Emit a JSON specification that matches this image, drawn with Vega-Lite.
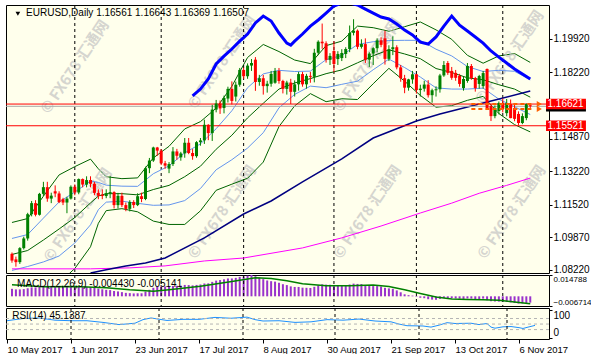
{
"$schema":"https://vega.github.io/schema/vega-lite/v6.json",
"background":"white",
"padding":{"left":4,"top":4,"right":4,"bottom":0},
"spacing":2,
"bounds":"flush",
"config":{"view":{"stroke":"black","strokeWidth":1,"fill":"#FFFFEC"},"font":"Liberation Sans","axis":{"labelFont":"Liberation Sans","labelFontSize":10,"labelColor":"black","tickColor":"black","domain":false,"grid":false}},
"datasets":{
"seps":[{"i":16},{"i":38},{"i":59},{"i":82},{"i":103},{"i":125}],
"wm":[{"i":16,"p":1.1850},{"i":53.5,"p":1.1875},{"i":90.5,"p":1.1860},{"i":126.75,"p":1.1900},{"i":16.75,"p":1.1100},{"i":53.5,"p":1.1115},{"i":90.5,"p":1.1115},{"i":127.25,"p":1.1115}],
"candles":[
{"i":0,"o":1.0903,"h":1.0910,"l":1.0858,"c":1.0869},{"i":1,"o":1.0875,"h":1.0889,"l":1.0838,"c":1.0861},{"i":2,"o":1.0861,"h":1.0937,"l":1.0852,"c":1.0932},{"i":3,"o":1.0932,"h":1.0990,"l":1.0925,"c":1.0981},{"i":4,"o":1.0981,"h":1.1111,"l":1.0970,"c":1.1104},{"i":5,"o":1.1104,"h":1.1171,"l":1.1093,"c":1.1160},{"i":6,"o":1.1160,"h":1.1175,"l":1.1093,"c":1.1101},{"i":7,"o":1.1101,"h":1.1212,"l":1.1097,"c":1.1207},{"i":8,"o":1.1207,"h":1.1268,"l":1.1196,"c":1.1241},{"i":9,"o":1.1241,"h":1.1268,"l":1.1167,"c":1.1183},
{"i":10,"o":1.1183,"h":1.1213,"l":1.1160,"c":1.1198},{"i":11,"o":1.1220,"h":1.1250,"l":1.1190,"c":1.1209},{"i":12,"o":1.1209,"h":1.1220,"l":1.1160,"c":1.1165},{"i":13,"o":1.1180,"h":1.1187,"l":1.1150,"c":1.1163},{"i":14,"o":1.1163,"h":1.1192,"l":1.1109,"c":1.1183},{"i":15,"o":1.1183,"h":1.1250,"l":1.1178,"c":1.1243},{"i":16,"o":1.1243,"h":1.1255,"l":1.1200,"c":1.1214},{"i":17,"o":1.1214,"h":1.1285,"l":1.1205,"c":1.1282},{"i":18,"o":1.1282,"h":1.1285,"l":1.1240,"c":1.1254},{"i":19,"o":1.1254,"h":1.1296,"l":1.1240,"c":1.1277},
{"i":20,"o":1.1277,"h":1.1296,"l":1.1240,"c":1.1258},{"i":21,"o":1.1258,"h":1.1268,"l":1.1200,"c":1.1212},{"i":22,"o":1.1212,"h":1.1230,"l":1.1180,"c":1.1197},{"i":23,"o":1.1203,"h":1.1230,"l":1.1180,"c":1.1196},{"i":24,"o":1.1196,"h":1.1230,"l":1.1185,"c":1.1210},{"i":25,"o":1.1210,"h":1.1298,"l":1.1185,"c":1.1216},{"i":26,"o":1.1216,"h":1.1220,"l":1.1133,"c":1.1150},{"i":27,"o":1.1150,"h":1.1212,"l":1.1133,"c":1.1197},{"i":28,"o":1.1197,"h":1.1213,"l":1.1140,"c":1.1150},{"i":29,"o":1.1150,"h":1.1163,"l":1.1119,"c":1.1131},
{"i":30,"o":1.1131,"h":1.1175,"l":1.1118,"c":1.1166},{"i":31,"o":1.1166,"h":1.1175,"l":1.1135,"c":1.1150},{"i":32,"o":1.1150,"h":1.1210,"l":1.1145,"c":1.1195},{"i":33,"o":1.1195,"h":1.1213,"l":1.1165,"c":1.1181},{"i":34,"o":1.1181,"h":1.1345,"l":1.1175,"c":1.1337},{"i":35,"o":1.1337,"h":1.1389,"l":1.1312,"c":1.1376},{"i":36,"o":1.1376,"h":1.1446,"l":1.1369,"c":1.1442},{"i":37,"o":1.1442,"h":1.1445,"l":1.1400,"c":1.1426},{"i":38,"o":1.1426,"h":1.1433,"l":1.1353,"c":1.1362},{"i":39,"o":1.1362,"h":1.1374,"l":1.1334,"c":1.1350},
{"i":40,"o":1.1335,"h":1.1368,"l":1.1312,"c":1.1358},{"i":41,"o":1.1358,"h":1.1444,"l":1.1348,"c":1.1422},{"i":42,"o":1.1422,"h":1.1435,"l":1.1380,"c":1.1400},{"i":43,"o":1.1392,"h":1.1420,"l":1.1375,"c":1.1412},{"i":44,"o":1.1412,"h":1.1490,"l":1.1390,"c":1.1466},{"i":45,"o":1.1466,"h":1.1490,"l":1.1408,"c":1.1414},{"i":46,"o":1.1414,"h":1.1434,"l":1.1380,"c":1.1398},{"i":47,"o":1.1398,"h":1.1474,"l":1.1390,"c":1.1469},{"i":48,"o":1.1469,"h":1.1490,"l":1.1451,"c":1.1478},{"i":49,"o":1.1478,"h":1.1583,"l":1.1460,"c":1.1557},
{"i":50,"o":1.1557,"h":1.1560,"l":1.1479,"c":1.1515},{"i":51,"o":1.1515,"h":1.1658,"l":1.1475,"c":1.1634},{"i":52,"o":1.1634,"h":1.1683,"l":1.1620,"c":1.1665},{"i":53,"o":1.1665,"h":1.1680,"l":1.1612,"c":1.1640},{"i":54,"o":1.1642,"h":1.1705,"l":1.1615,"c":1.1693},{"i":55,"o":1.1690,"h":1.1750,"l":1.1670,"c":1.1739},{"i":56,"o":1.1739,"h":1.1777,"l":1.1660,"c":1.1678},{"i":57,"o":1.1700,"h":1.1776,"l":1.1675,"c":1.1760},{"i":58,"o":1.1760,"h":1.1845,"l":1.1750,"c":1.1835},{"i":59,"o":1.1835,"h":1.1847,"l":1.1790,"c":1.1803},
{"i":60,"o":1.1803,"h":1.1868,"l":1.1790,"c":1.1857},{"i":61,"o":1.1857,"h":1.1890,"l":1.1830,"c":1.1870},{"i":62,"o":1.1887,"h":1.1900,"l":1.1729,"c":1.1774},{"i":63,"o":1.1774,"h":1.1810,"l":1.1755,"c":1.1793},{"i":64,"o":1.1793,"h":1.1810,"l":1.1710,"c":1.1753},{"i":65,"o":1.1753,"h":1.1780,"l":1.1720,"c":1.1765},{"i":66,"o":1.1765,"h":1.1830,"l":1.1750,"c":1.1815},{"i":67,"o":1.1770,"h":1.1845,"l":1.1765,"c":1.1830},{"i":68,"o":1.1830,"h":1.1845,"l":1.1765,"c":1.1779},{"i":69,"o":1.1779,"h":1.1785,"l":1.1716,"c":1.1739},
{"i":70,"o":1.1739,"h":1.1780,"l":1.1710,"c":1.1771},{"i":71,"o":1.1771,"h":1.1790,"l":1.1662,"c":1.1724},{"i":72,"o":1.1724,"h":1.1782,"l":1.1700,"c":1.1762},{"i":73,"o":1.1762,"h":1.1825,"l":1.1730,"c":1.1814},{"i":74,"o":1.1814,"h":1.1825,"l":1.1750,"c":1.1762},{"i":75,"o":1.1762,"h":1.1815,"l":1.1740,"c":1.1805},{"i":76,"o":1.1805,"h":1.1825,"l":1.1770,"c":1.1800},{"i":77,"o":1.1800,"h":1.1942,"l":1.1772,"c":1.1922},{"i":78,"o":1.1922,"h":1.1985,"l":1.1910,"c":1.1978},{"i":79,"o":1.1978,"h":1.2070,"l":1.1942,"c":1.1970},
{"i":80,"o":1.1970,"h":1.1980,"l":1.1872,"c":1.1886},{"i":81,"o":1.1886,"h":1.1920,"l":1.1860,"c":1.1906},{"i":82,"o":1.1931,"h":1.1980,"l":1.1823,"c":1.1865},{"i":83,"o":1.1890,"h":1.1930,"l":1.1860,"c":1.1916},{"i":84,"o":1.1895,"h":1.1940,"l":1.1880,"c":1.1921},{"i":85,"o":1.1916,"h":1.1950,"l":1.1895,"c":1.1941},{"i":86,"o":1.1941,"h":1.2060,"l":1.1925,"c":1.2022},{"i":87,"o":1.2023,"h":1.2092,"l":1.2010,"c":1.2034},{"i":88,"o":1.2034,"h":1.2040,"l":1.1940,"c":1.1952},{"i":89,"o":1.1952,"h":1.1990,"l":1.1943,"c":1.1966},
{"i":90,"o":1.1966,"h":1.1995,"l":1.1870,"c":1.1887},{"i":91,"o":1.1887,"h":1.1925,"l":1.1850,"c":1.1918},{"i":92,"o":1.1918,"h":1.1950,"l":1.1860,"c":1.1945},{"i":93,"o":1.1945,"h":1.1995,"l":1.1925,"c":1.1985},{"i":94,"o":1.1985,"h":1.2000,"l":1.1950,"c":1.1962},{"i":95,"o":1.1995,"h":1.2034,"l":1.1862,"c":1.1891},{"i":96,"o":1.1891,"h":1.1960,"l":1.1880,"c":1.1940},{"i":97,"o":1.1940,"h":1.2005,"l":1.1910,"c":1.1950},{"i":98,"o":1.1950,"h":1.1960,"l":1.1838,"c":1.1848},{"i":99,"o":1.1848,"h":1.1860,"l":1.1775,"c":1.1793},
{"i":100,"o":1.1793,"h":1.1810,"l":1.1717,"c":1.1745},{"i":101,"o":1.1745,"h":1.1790,"l":1.1730,"c":1.1787},{"i":102,"o":1.1787,"h":1.1830,"l":1.1765,"c":1.1813},{"i":103,"o":1.1813,"h":1.1815,"l":1.1715,"c":1.1733},{"i":104,"o":1.1733,"h":1.1760,"l":1.1700,"c":1.1740},{"i":105,"o":1.1740,"h":1.1780,"l":1.1725,"c":1.1761},{"i":106,"o":1.1761,"h":1.1783,"l":1.1695,"c":1.1707},{"i":107,"o":1.1707,"h":1.1740,"l":1.1669,"c":1.1732},{"i":108,"o":1.1732,"h":1.1752,"l":1.1700,"c":1.1737},{"i":109,"o":1.1737,"h":1.1815,"l":1.1720,"c":1.1807},
{"i":110,"o":1.1807,"h":1.1880,"l":1.1800,"c":1.1860},{"i":111,"o":1.1870,"h":1.1880,"l":1.1810,"c":1.1820},{"i":112,"o":1.1830,"h":1.1850,"l":1.1785,"c":1.1795},{"i":113,"o":1.1820,"h":1.1835,"l":1.1780,"c":1.1795},{"i":114,"o":1.1805,"h":1.1815,"l":1.1750,"c":1.1764},{"i":115,"o":1.1743,"h":1.1800,"l":1.1730,"c":1.1789},{"i":116,"o":1.1779,"h":1.1870,"l":1.1770,"c":1.1855},{"i":117,"o":1.1855,"h":1.1865,"l":1.1785,"c":1.1794},{"i":118,"o":1.1794,"h":1.1800,"l":1.1725,"c":1.1743},{"i":119,"o":1.1764,"h":1.1810,"l":1.1740,"c":1.1804},
{"i":120,"o":1.1753,"h":1.1830,"l":1.1740,"c":1.1819},{"i":121,"o":1.1840,"h":1.1842,"l":1.1635,"c":1.1642},{"i":122,"o":1.1652,"h":1.1663,"l":1.1576,"c":1.1601},{"i":123,"o":1.1601,"h":1.1655,"l":1.1590,"c":1.1642},{"i":124,"o":1.1627,"h":1.1675,"l":1.1610,"c":1.1667},{"i":125,"o":1.1667,"h":1.1690,"l":1.1620,"c":1.1637},{"i":126,"o":1.1616,"h":1.1688,"l":1.1600,"c":1.1667},{"i":127,"o":1.1662,"h":1.1685,"l":1.1590,"c":1.1591},{"i":128,"o":1.1642,"h":1.1660,"l":1.1575,"c":1.1587},{"i":129,"o":1.1612,"h":1.1625,"l":1.1554,"c":1.1566},
{"i":130,"o":1.1566,"h":1.1615,"l":1.1560,"c":1.1601},{"i":131,"o":1.1591,"h":1.1665,"l":1.1580,"c":1.1662},{"i":132,"o":1.16561,"h":1.16643,"l":1.16369,"c":1.16507}
],
"bands":[
{"i":0,"gu":1.1062,"bu":1.0981,"m":1.0900,"bl":1.0819,"gl":1.0738},{"i":4,"gu":1.1082,"bu":1.1001,"m":1.0920,"bl":1.0839,"gl":1.0758},{"i":8,"gu":1.1195,"bu":1.1084,"m":1.0973,"bl":1.0862,"gl":1.0751},{"i":12,"gu":1.1303,"bu":1.1166,"m":1.1029,"bl":1.0892,"gl":1.0755},{"i":16,"gu":1.1345,"bu":1.1216,"m":1.1087,"bl":1.0958,"gl":1.0829},{"i":20,"gu":1.1383,"bu":1.1272,"m":1.1161,"bl":1.1050,"gl":1.0939},{"i":22,"gu":1.1334,"bu":1.1265,"m":1.1196,"bl":1.1127,"gl":1.1058},{"i":24,"gu":1.1294,"bu":1.1251,"m":1.1208,"bl":1.1165,"gl":1.1122},{"i":28,"gu":1.1284,"bu":1.1246,"m":1.1208,"bl":1.1170,"gl":1.1132},{"i":32,"gu":1.1288,"bu":1.1245,"m":1.1202,"bl":1.1159,"gl":1.1116},
{"i":36,"gu":1.1389,"bu":1.1309,"m":1.1229,"bl":1.1149,"gl":1.1069},{"i":40,"gu":1.1448,"bu":1.1349,"m":1.1250,"bl":1.1151,"gl":1.1052},{"i":44,"gu":1.1536,"bu":1.1415,"m":1.1294,"bl":1.1173,"gl":1.1052},{"i":48,"gu":1.1573,"bu":1.1460,"m":1.1347,"bl":1.1234,"gl":1.1121},{"i":52,"gu":1.1641,"bu":1.1537,"m":1.1433,"bl":1.1329,"gl":1.1225},{"i":56,"gu":1.1752,"bu":1.1628,"m":1.1504,"bl":1.1380,"gl":1.1256},{"i":60,"gu":1.1898,"bu":1.1745,"m":1.1592,"bl":1.1439,"gl":1.1286},{"i":64,"gu":1.1964,"bu":1.1815,"m":1.1666,"bl":1.1517,"gl":1.1368},{"i":68,"gu":1.1928,"bu":1.1833,"m":1.1738,"bl":1.1643,"gl":1.1548},{"i":72,"gu":1.1885,"bu":1.1827,"m":1.1769,"bl":1.1711,"gl":1.1653},
{"i":76,"gu":1.1867,"bu":1.1829,"m":1.1791,"bl":1.1753,"gl":1.1715},{"i":80,"gu":1.1958,"bu":1.1887,"m":1.1816,"bl":1.1745,"gl":1.1674},{"i":84,"gu":1.1981,"bu":1.1908,"m":1.1835,"bl":1.1762,"gl":1.1689},{"i":88,"gu":1.2057,"bu":1.1964,"m":1.1871,"bl":1.1778,"gl":1.1685},{"i":92,"gu":1.2049,"bu":1.1978,"m":1.1907,"bl":1.1836,"gl":1.1765},{"i":96,"gu":1.2031,"bu":1.1984,"m":1.1937,"bl":1.1890,"gl":1.1843},{"i":100,"gu":1.2054,"bu":1.1985,"m":1.1916,"bl":1.1847,"gl":1.1778},{"i":104,"gu":1.2078,"bu":1.1985,"m":1.1892,"bl":1.1799,"gl":1.1706},{"i":108,"gu":1.2038,"bu":1.1940,"m":1.1842,"bl":1.1744,"gl":1.1646},{"i":112,"gu":1.1990,"bu":1.1906,"m":1.1822,"bl":1.1738,"gl":1.1654},
{"i":116,"gu":1.1909,"bu":1.1852,"m":1.1795,"bl":1.1738,"gl":1.1681},{"i":120,"gu":1.1869,"bu":1.1827,"m":1.1785,"bl":1.1743,"gl":1.1701},{"i":124,"gu":1.1906,"bu":1.1833,"m":1.1760,"bl":1.1687,"gl":1.1614},{"i":128,"gu":1.1918,"bu":1.1828,"m":1.1738,"bl":1.1648,"gl":1.1558},{"i":132,"gu":1.1873,"bu":1.1785,"m":1.1697,"bl":1.1609,"gl":1.1521}
],
"tb":[{"i":46,"v":1.1703},{"i":48,"v":1.1738},{"i":50,"v":1.1789},{"i":52,"v":1.1865},{"i":54,"v":1.1905},{"i":56,"v":1.1941},{"i":58,"v":1.1981},{"i":60,"v":1.2017},{"i":62,"v":1.2073},{"i":64,"v":1.2108},{"i":66,"v":1.2083},{"i":68,"v":1.2022},{"i":70,"v":1.1971},{"i":71,"v":1.1961},{"i":72,"v":1.1981},{"i":74,"v":1.2017},{"i":76,"v":1.2057},{"i":78,"v":1.2088},{"i":80,"v":1.2123},{"i":82,"v":1.2159},{"i":84,"v":1.2174},{"i":86,"v":1.2174},{"i":88,"v":1.2164},{"i":90,"v":1.2143},{"i":92,"v":1.2123},{"i":94,"v":1.2103},{"i":96,"v":1.2093},{"i":98,"v":1.2068},{"i":100,"v":1.2037},{"i":102,"v":1.2012},{"i":104,"v":1.1976},{"i":106,"v":1.1966},{"i":108,"v":1.2002},{"i":110,"v":1.2057},{"i":112,"v":1.2108},{"i":114,"v":1.2062},{"i":116,"v":1.2032},{"i":118,"v":1.2002},{"i":120,"v":1.1971},{"i":122,"v":1.1931},{"i":124,"v":1.1900},{"i":126,"v":1.1870},{"i":128,"v":1.1840},{"i":130,"v":1.1814},{"i":132,"v":1.1789}],
"navy":[{"i":20,"v":1.0806},{"i":24,"v":1.0822},{"i":29,"v":1.0842},{"i":34,"v":1.0857},{"i":39,"v":1.0882},{"i":49,"v":1.0984},{"i":59,"v":1.1105},{"i":66,"v":1.1171},{"i":74,"v":1.1268},{"i":84,"v":1.1384},{"i":92,"v":1.1490},{"i":103,"v":1.1576},{"i":109,"v":1.1612},{"i":117,"v":1.1652},{"i":121,"v":1.1672},{"i":132,"v":1.1728}],
"mag":[{"i":0,"v":1.0827},{"i":20,"v":1.0827},{"i":30,"v":1.0832},{"i":39,"v":1.0842},{"i":49,"v":1.0867},{"i":59,"v":1.0882},{"i":74,"v":1.0933},{"i":84,"v":1.0984},{"i":94,"v":1.1044},{"i":104,"v":1.1110},{"i":112,"v":1.1160},{"i":119,"v":1.1210},{"i":126,"v":1.1250},{"i":132,"v":1.1287}],
"macd":[{"i":0,"h":0.0052},{"i":1,"h":0.0048},{"i":2,"h":0.0048},{"i":3,"h":0.0050},{"i":4,"h":0.0056},{"i":5,"h":0.0062},{"i":6,"h":0.0062},{"i":7,"h":0.0068},{"i":8,"h":0.0073},{"i":9,"h":0.0073},{"i":10,"h":0.0072},{"i":11,"h":0.0072},{"i":12,"h":0.0069},{"i":13,"h":0.0066},{"i":14,"h":0.0064},{"i":15,"h":0.0066},{"i":16,"h":0.0064},{"i":17,"h":0.0067},{"i":18,"h":0.0066},{"i":19,"h":0.0066},{"i":20,"h":0.0064},{"i":21,"h":0.0059},{"i":22,"h":0.0054},{"i":23,"h":0.0049},{"i":24,"h":0.0045},{"i":25,"h":0.0043},{"i":26,"h":0.0037},{"i":27,"h":0.0034},{"i":28,"h":0.0029},{"i":29,"h":0.0024},{"i":30,"h":0.0022},{"i":31,"h":0.0020},{"i":32,"h":0.0021},{"i":33,"h":0.0021},{"i":34,"h":0.0033},{"i":35,"h":0.0045},{"i":36,"h":0.0059},{"i":37,"h":0.0067},{"i":38,"h":0.0068},{"i":39,"h":0.0068},{"i":40,"h":0.0068},{"i":41,"h":0.0072},{"i":42,"h":0.0073},{"i":43,"h":0.0074},{"i":44,"h":0.0079},{"i":45,"h":0.0078},{"i":46,"h":0.0076},{"i":47,"h":0.0079},{"i":48,"h":0.0082},{"i":49,"h":0.0089},{"i":50,"h":0.0090},{"i":51,"h":0.0100},{"i":52,"h":0.0109},{"i":53,"h":0.0113},{"i":54,"h":0.0118},{"i":55,"h":0.0124},{"i":56,"h":0.0124},{"i":57,"h":0.0128},{"i":58,"h":0.0135},{"i":59,"h":0.0138},{"i":60,"h":0.0143},{"i":61,"h":0.0148},{"i":62,"h":0.0140},{"i":63,"h":0.0130},{"i":64,"h":0.0119},{"i":65,"h":0.0110},{"i":66,"h":0.0105},{"i":67,"h":0.0102},{"i":68,"h":0.0094},{"i":69,"h":0.0084},{"i":70,"h":0.0078},{"i":71,"h":0.0069},{"i":72,"h":0.0065},{"i":73,"h":0.0065},{"i":74,"h":0.0060},{"i":75,"h":0.0059},{"i":76,"h":0.0058},{"i":77,"h":0.0066},{"i":78,"h":0.0076},{"i":79,"h":0.0083},{"i":80,"h":0.0081},{"i":81,"h":0.0080},{"i":82,"h":0.0075},{"i":83,"h":0.0073},{"i":84,"h":0.0074},{"i":85,"h":0.0074},{"i":86,"h":0.0082},{"i":87,"h":0.0088},{"i":88,"h":0.0086},{"i":89,"h":0.0085},{"i":90,"h":0.0077},{"i":91,"h":0.0073},{"i":92,"h":0.0071},{"i":93,"h":0.0071},{"i":94,"h":0.0068},{"i":95,"h":0.0059},{"i":96,"h":0.0055},{"i":97,"h":0.0052},{"i":98,"h":0.0041},{"i":99,"h":0.0028},{"i":100,"h":0.0014},{"i":101,"h":0.0008},{"i":102,"h":0.0005},{"i":103,"h":-0.0004},{"i":104,"h":-0.0010},{"i":105,"h":-0.0013},{"i":106,"h":-0.0020},{"i":107,"h":-0.0023},{"i":108,"h":-0.0024},{"i":109,"h":-0.0018},{"i":110,"h":-0.0012},{"i":111,"h":-0.0013},{"i":112,"h":-0.0014},{"i":113,"h":-0.0015},{"i":114,"h":-0.0016},{"i":115,"h":-0.0018},{"i":116,"h":-0.0015},{"i":117,"h":-0.0016},{"i":118,"h":-0.0019},{"i":119,"h":-0.0019},{"i":120,"h":-0.0016},{"i":121,"h":-0.0027},{"i":122,"h":-0.0034},{"i":123,"h":-0.0036},{"i":124,"h":-0.0037},{"i":125,"h":-0.0039},{"i":126,"h":-0.0039},{"i":127,"h":-0.0042},{"i":128,"h":-0.0046},{"i":129,"h":-0.0050},{"i":130,"h":-0.0049},{"i":131,"h":-0.0046},{"i":132,"h":-0.0044}],
"sig":[{"i":0,"s":0.0080},{"i":8,"s":0.0066},{"i":16,"s":0.0068},{"i":24,"s":0.0060},{"i":30,"s":0.0045},{"i":36,"s":0.0036},{"i":40,"s":0.0046},{"i":48,"s":0.0070},{"i":56,"s":0.0103},{"i":62,"s":0.0128},{"i":66,"s":0.0124},{"i":70,"s":0.0108},{"i":74,"s":0.0088},{"i":80,"s":0.0073},{"i":86,"s":0.0074},{"i":92,"s":0.0078},{"i":96,"s":0.0068},{"i":100,"s":0.0046},{"i":104,"s":0.0020},{"i":108,"s":-0.0005},{"i":112,"s":-0.0018},{"i":116,"s":-0.0022},{"i":120,"s":-0.0024},{"i":124,"s":-0.0028},{"i":128,"s":-0.0040},{"i":132,"s":-0.0051}],
"rsi":[{"i":0,"r":62},{"i":4,"r":70},{"i":8,"r":72},{"i":12,"r":64},{"i":16,"r":62},{"i":20,"r":62},{"i":24,"r":56},{"i":28,"r":48},{"i":32,"r":53},{"i":34,"r":66},{"i":36,"r":72},{"i":40,"r":63},{"i":44,"r":67},{"i":48,"r":67},{"i":52,"r":74},{"i":56,"r":71},{"i":60,"r":75},{"i":62,"r":66},{"i":64,"r":61},{"i":68,"r":62},{"i":72,"r":56},{"i":76,"r":58},{"i":80,"r":66},{"i":84,"r":64},{"i":88,"r":68},{"i":92,"r":61},{"i":96,"r":58},{"i":98,"r":50},{"i":100,"r":44},{"i":104,"r":43},{"i":106,"r":39},{"i":108,"r":46},{"i":110,"r":55},{"i":112,"r":52},{"i":116,"r":53},{"i":118,"r":48},{"i":120,"r":52},{"i":121,"r":39},{"i":122,"r":35},{"i":124,"r":40},{"i":126,"r":41},{"i":128,"r":37},{"i":129,"r":34},{"i":130,"r":38},{"i":132,"r":45.14}]
},
"vconcat":[
{"width":543,"height":268,
"layer":[
{"data":{"name":"bands"},"mark":{"type":"line","color":"#006400","strokeWidth":1,"clip":true},"encoding":{"x":{"field":"i","type":"quantitative","scale":{"domain":[-0.25,135.5],"nice":false,"zero":false},"axis":null},"y":{"field":"gu","type":"quantitative","scale":{"domain":[1.0806,1.2164],"nice":false,"zero":false},"axis":{"orient":"right","values":[1.0822,1.0987,1.1152,1.1322,1.1487,1.1822,1.1992],"format":".5f","tickSize":3,"labelPadding":1,"labelOverlap":false,"labelOffset":{"condition":{"test":"abs(datum.value - 1.1487) < 0.0001","value":-2},"value":0},"title":null}}}},
{"data":{"name":"wm"},"mark":{"type":"text","text":"© FX678 汇通网","font":"Noto Sans CJK SC","fontSize":15,"fontWeight":"bold","angle":-56,"align":"center","baseline":"middle","color":"#C4C4C4","opacity":0.7},"encoding":{"x":{"field":"i","type":"quantitative","scale":{"domain":[-0.25,135.5],"nice":false,"zero":false},"axis":null},"y":{"field":"p","type":"quantitative","scale":{"domain":[1.0806,1.2164],"nice":false,"zero":false}}}},
{"data":{"name":"seps"},"mark":{"type":"rule","color":"black","strokeDash":[3,3],"strokeWidth":1},"encoding":{"x":{"field":"i","type":"quantitative","scale":{"domain":[-0.25,135.5],"nice":false,"zero":false},"axis":null}}},
{"data":{"name":"bands"},"mark":{"type":"line","color":"#6495ED","strokeWidth":1,"clip":true},"encoding":{"x":{"field":"i","type":"quantitative","scale":{"domain":[-0.25,135.5],"nice":false,"zero":false},"axis":null},"y":{"field":"bu","type":"quantitative","scale":{"domain":[1.0806,1.2164],"nice":false,"zero":false}}}},
{"data":{"name":"bands"},"mark":{"type":"line","color":"#006400","strokeWidth":1,"clip":true},"encoding":{"x":{"field":"i","type":"quantitative","scale":{"domain":[-0.25,135.5],"nice":false,"zero":false},"axis":null},"y":{"field":"m","type":"quantitative","scale":{"domain":[1.0806,1.2164],"nice":false,"zero":false}}}},
{"data":{"name":"bands"},"mark":{"type":"line","color":"#6495ED","strokeWidth":1,"clip":true},"encoding":{"x":{"field":"i","type":"quantitative","scale":{"domain":[-0.25,135.5],"nice":false,"zero":false},"axis":null},"y":{"field":"bl","type":"quantitative","scale":{"domain":[1.0806,1.2164],"nice":false,"zero":false}}}},
{"data":{"name":"bands"},"mark":{"type":"line","color":"#006400","strokeWidth":1,"clip":true},"encoding":{"x":{"field":"i","type":"quantitative","scale":{"domain":[-0.25,135.5],"nice":false,"zero":false},"axis":null},"y":{"field":"gl","type":"quantitative","scale":{"domain":[1.0806,1.2164],"nice":false,"zero":false}}}},
{"data":{"name":"mag"},"mark":{"type":"line","color":"#FF00FF","strokeWidth":1,"clip":true},"encoding":{"x":{"field":"i","type":"quantitative","scale":{"domain":[-0.25,135.5],"nice":false,"zero":false},"axis":null},"y":{"field":"v","type":"quantitative","scale":{"domain":[1.0806,1.2164],"nice":false,"zero":false}}}},
{"data":{"name":"navy"},"mark":{"type":"line","color":"#000080","strokeWidth":1.5,"clip":true},"encoding":{"x":{"field":"i","type":"quantitative","scale":{"domain":[-0.25,135.5],"nice":false,"zero":false},"axis":null},"y":{"field":"v","type":"quantitative","scale":{"domain":[1.0806,1.2164],"nice":false,"zero":false}}}},
{"data":{"name":"tb"},"mark":{"type":"line","color":"#0000FF","strokeWidth":3,"clip":true},"encoding":{"x":{"field":"i","type":"quantitative","scale":{"domain":[-0.25,135.5],"nice":false,"zero":false},"axis":null},"y":{"field":"v","type":"quantitative","scale":{"domain":[1.0806,1.2164],"nice":false,"zero":false}}}},
{"data":{"values":[{"p":1.16507}]},"mark":{"type":"rule","color":"#A8A8A8","strokeWidth":1},"encoding":{"y":{"field":"p","type":"quantitative","scale":{"domain":[1.0806,1.2164],"nice":false,"zero":false}}}},
{"data":{"values":[{"p":1.16621},{"p":1.15521}]},"mark":{"type":"rule","color":"#FF0000","strokeWidth":1},"encoding":{"y":{"field":"p","type":"quantitative","scale":{"domain":[1.0806,1.2164],"nice":false,"zero":false}}}},
{"data":{"name":"candles"},"mark":{"type":"rule","strokeWidth":1},"encoding":{"x":{"field":"i","type":"quantitative","scale":{"domain":[-0.25,135.5],"nice":false,"zero":false},"axis":null},"y":{"field":"l","type":"quantitative","scale":{"domain":[1.0806,1.2164],"nice":false,"zero":false}},"y2":{"field":"h"},"color":{"condition":{"test":"datum.c >= datum.o","value":"#008000"},"value":"#FF0000"}}},
{"data":{"name":"candles"},"mark":{"type":"bar","width":3},"encoding":{"x":{"field":"i","type":"quantitative","scale":{"domain":[-0.25,135.5],"nice":false,"zero":false},"axis":null},"y":{"field":"o","type":"quantitative","scale":{"domain":[1.0806,1.2164],"nice":false,"zero":false}},"y2":{"field":"c"},"color":{"condition":{"test":"datum.c >= datum.o","value":"#008000"},"value":"#FF0000"}}},
{"data":{"values":[{"a":117,"b":133,"p":1.1662},{"a":117,"b":133,"p":1.1637}]},"mark":{"type":"rule","color":"#FF6000","strokeDash":[4,3],"strokeWidth":2},"encoding":{"x":{"field":"a","type":"quantitative","scale":{"domain":[-0.25,135.5],"nice":false,"zero":false},"axis":null},"x2":{"field":"b"},"y":{"field":"p","type":"quantitative","scale":{"domain":[1.0806,1.2164],"nice":false,"zero":false}}}},
{"data":{"values":[{"p":1.1662},{"p":1.1637}]},"mark":{"type":"point","shape":"triangle-right","filled":true,"size":35,"color":"#FF6000","opacity":1},"encoding":{"x":{"datum":134.3,"type":"quantitative","scale":{"domain":[-0.25,135.5],"nice":false,"zero":false},"axis":null},"y":{"field":"p","type":"quantitative","scale":{"domain":[1.0806,1.2164],"nice":false,"zero":false}}}},
{"data":{"values":[{"t":"EURUSD,Daily  1.16561 1.16643 1.16369 1.16507"}]},"mark":{"type":"text","align":"left","baseline":"middle","fontSize":10,"color":"black"},"encoding":{"x":{"datum":3.6,"type":"quantitative","scale":{"domain":[-0.25,135.5],"nice":false,"zero":false},"axis":null},"y":{"datum":1.2121,"type":"quantitative","scale":{"domain":[1.0806,1.2164],"nice":false,"zero":false}},"text":{"field":"t"}}},
{"data":{"values":[{"t":"v"}]},"mark":{"type":"point","shape":"triangle-down","filled":true,"size":22,"color":"black","opacity":1},"encoding":{"x":{"datum":1.5,"type":"quantitative","scale":{"domain":[-0.25,135.5],"nice":false,"zero":false},"axis":null},"y":{"datum":1.2120,"type":"quantitative","scale":{"domain":[1.0806,1.2164],"nice":false,"zero":false}}}},
{"data":{"values":[{"p":1.16507}]},"mark":{"type":"point","shape":"M-1.9,-0.5H1.9V0.5H-1.9Z","size":441,"filled":true,"color":"black","opacity":1,"strokeWidth":0},"encoding":{"x":{"datum":141.1,"type":"quantitative","scale":{"domain":[-0.25,135.5],"nice":false,"zero":false},"axis":null},"y":{"field":"p","type":"quantitative","scale":{"domain":[1.0806,1.2164],"nice":false,"zero":false}}}},
{"data":{"values":[{"p":1.16621},{"p":1.15521}]},"mark":{"type":"point","shape":"M-1.9,-0.5H1.9V0.5H-1.9Z","size":441,"filled":true,"color":"#FF0000","opacity":1,"strokeWidth":0},"encoding":{"x":{"datum":141.1,"type":"quantitative","scale":{"domain":[-0.25,135.5],"nice":false,"zero":false},"axis":null},"y":{"field":"p","type":"quantitative","scale":{"domain":[1.0806,1.2164],"nice":false,"zero":false}}}},
{"data":{"values":[{"p":1.16621,"t":"1.16621"},{"p":1.15521,"t":"1.15521"}]},"mark":{"type":"text","align":"left","baseline":"middle","fontSize":10,"color":"white"},"encoding":{"x":{"datum":136.4,"type":"quantitative","scale":{"domain":[-0.25,135.5],"nice":false,"zero":false},"axis":null},"y":{"field":"p","type":"quantitative","scale":{"domain":[1.0806,1.2164],"nice":false,"zero":false}},"text":{"field":"t"}}}
]},
{"width":543,"height":31,
"layer":[
{"data":{"name":"macd"},"mark":{"type":"bar","width":2,"color":"#9932CC"},"encoding":{"x":{"field":"i","type":"quantitative","scale":{"domain":[-0.25,135.5],"nice":false,"zero":false},"axis":null},"y":{"field":"h","type":"quantitative","scale":{"domain":[-0.006714,0.014788],"nice":false,"zero":false},"axis":{"orient":"right","values":[-0.006714,0,0.014788],"labelExpr":"datum.value == 0 ? '0.00' : format(datum.value, '.6f')","labelBaseline":{"condition":[{"test":"datum.value > 0.01","value":"top"},{"test":"datum.value < -0.001","value":"bottom"}],"value":"middle"},"labelFontSize":8,"tickSize":3,"labelPadding":1,"labelOverlap":false,"title":null}},"y2":{"datum":0}}},
{"data":{"name":"seps"},"mark":{"type":"rule","color":"black","strokeDash":[3,3],"strokeWidth":1},"encoding":{"x":{"field":"i","type":"quantitative","scale":{"domain":[-0.25,135.5],"nice":false,"zero":false},"axis":null}}},
{"data":{"name":"sig"},"mark":{"type":"line","color":"#008000","strokeWidth":1.5},"encoding":{"x":{"field":"i","type":"quantitative","scale":{"domain":[-0.25,135.5],"nice":false,"zero":false},"axis":null},"y":{"field":"s","type":"quantitative","scale":{"domain":[-0.006714,0.014788],"nice":false,"zero":false}}}},
{"data":{"values":[{"t":"MACD(12,26,9) -0.004430 -0.005141"}]},"mark":{"type":"text","align":"left","baseline":"middle","fontSize":10,"color":"black"},"encoding":{"x":{"datum":1.3,"type":"quantitative","scale":{"domain":[-0.25,135.5],"nice":false,"zero":false},"axis":null},"y":{"datum":0.0085,"type":"quantitative","scale":{"domain":[-0.006714,0.014788],"nice":false,"zero":false}},"text":{"field":"t"}}}
]},
{"width":543,"height":31,
"layer":[
{"data":{"name":"rsi"},"mark":{"type":"line","color":"#1E90FF","strokeWidth":1},"encoding":{"x":{"field":"i","type":"quantitative","scale":{"domain":[-0.25,135.5],"nice":false,"zero":false},"axis":{"values":[0,16,32,48,64,80,96,112,128],"labelExpr":"['10 May 2017','1 Jun 2017','23 Jun 2017','17 Jul 2017','8 Aug 2017','30 Aug 2017','21 Sep 2017','13 Oct 2017','6 Nov 2017'][round(datum.value/16)]","labelAlign":"left","labelPadding":1,"labelFontSize":9.5,"tickSize":4,"labelFlush":false,"labelOverlap":false,"labelBound":false,"title":null}},"y":{"field":"r","type":"quantitative","scale":{"domain":[-4,108],"nice":false,"zero":false},"axis":{"orient":"right","values":[0,30,50,70,100],"labelBaseline":{"condition":[{"test":"datum.value > 90","value":"top"},{"test":"datum.value < 10","value":"bottom"}],"value":"middle"},"tickSize":3,"labelPadding":1,"labelOverlap":false,"title":null}}}},
{"data":{"name":"seps"},"mark":{"type":"rule","color":"black","strokeDash":[3,3],"strokeWidth":1},"encoding":{"x":{"field":"i","type":"quantitative","scale":{"domain":[-0.25,135.5],"nice":false,"zero":false}}}},
{"data":{"values":[{"v":30},{"v":50},{"v":70}]},"mark":{"type":"rule","color":"#B4B4B4","strokeDash":[3,3],"strokeWidth":1},"encoding":{"y":{"field":"v","type":"quantitative","scale":{"domain":[-4,108],"nice":false,"zero":false}}}},
{"data":{"values":[{"t":"RSI(14) 45.1387"}]},"mark":{"type":"text","align":"left","baseline":"middle","fontSize":10,"color":"black"},"encoding":{"x":{"datum":1.3,"type":"quantitative","scale":{"domain":[-0.25,135.5],"nice":false,"zero":false}},"y":{"datum":79,"type":"quantitative","scale":{"domain":[-4,108],"nice":false,"zero":false}},"text":{"field":"t"}}}
]}
]
}
